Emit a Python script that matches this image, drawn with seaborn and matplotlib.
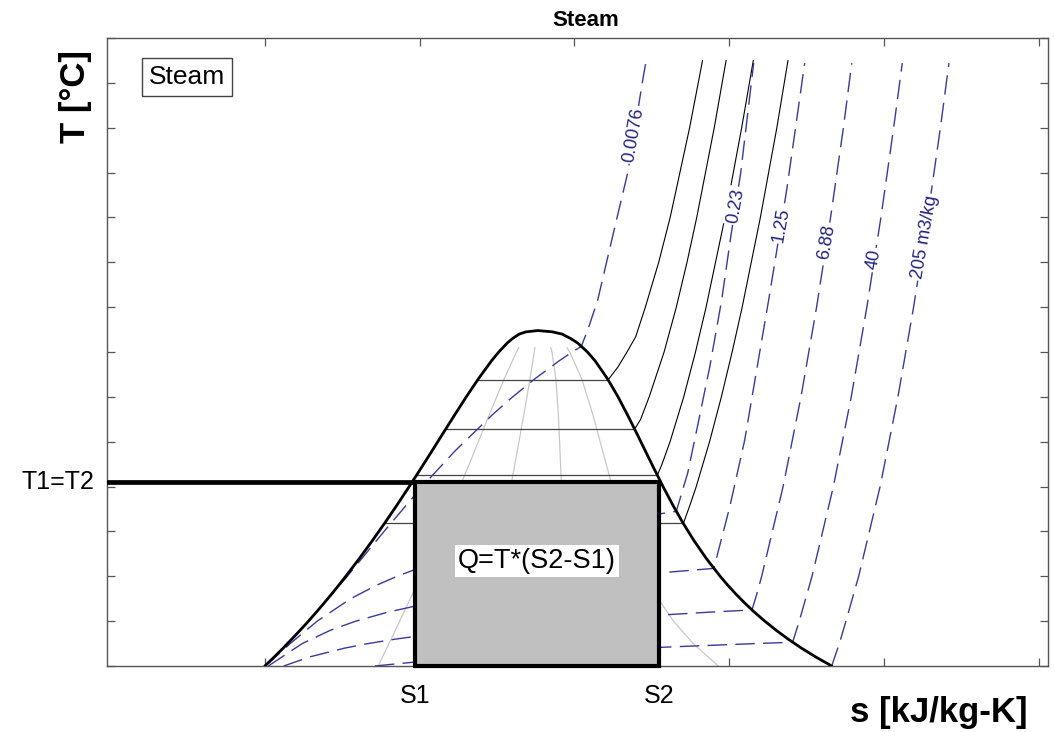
import matplotlib
matplotlib.use('Agg')
import matplotlib.pyplot as plt
import matplotlib.transforms as mtransforms
from matplotlib.patches import Rectangle
import numpy as np
import seaborn as sns

# saturation line of water: T [degC], s of liquid and vapour [kJ/kg-K]
sat_T = [0.01, 10, 20, 30, 40, 50, 60, 70, 80, 90, 100, 120, 140, 160, 180,
         200, 220, 240, 260, 280, 300, 320, 340, 350, 360, 365, 370, 372.5]
sat_sf = [0.0, 0.151, 0.297, 0.437, 0.572, 0.704, 0.831, 0.955, 1.076, 1.193,
          1.307, 1.528, 1.739, 1.943, 2.140, 2.331, 2.518, 2.702, 2.884, 3.067,
          3.253, 3.448, 3.659, 3.778, 3.915, 4.00, 4.11, 4.22]
sat_sg = [9.156, 8.900, 8.666, 8.452, 8.256, 8.075, 7.908, 7.754, 7.611, 7.478,
          7.354, 7.129, 6.929, 6.749, 6.585, 6.432, 6.286, 6.144, 6.002, 5.857,
          5.705, 5.536, 5.336, 5.211, 5.053, 4.94, 4.80, 4.64]
crit_s, crit_T = 4.41, 373.9

# lines of constant quality (0.2, 0.4, 0.6, 0.8) inside the dome
qual_T = [0.01, 25, 50, 80, 110, 140, 170, 200, 240, 280, 320, 350, 355]
qual_02 = [1.831, 2.005, 2.178, 2.383, 2.583, 2.777, 2.967, 3.151, 3.390, 3.625, 3.866, 4.064, 4.102]
qual_04 = [3.662, 3.643, 3.652, 3.690, 3.747, 3.815, 3.891, 3.972, 4.078, 4.183, 4.283, 4.351, 4.361]
qual_06 = [5.494, 5.281, 5.126, 4.997, 4.910, 4.853, 4.816, 4.792, 4.767, 4.741, 4.701, 4.638, 4.619]
qual_08 = [7.325, 6.919, 6.601, 6.304, 6.074, 5.891, 5.740, 5.612, 5.455, 5.299, 5.119, 4.924, 4.878]

# isobars (flat across the dome, then superheated)
p1_s = [3.438, 5.545, 5.70, 5.85, 5.99, 6.146, 6.362, 6.547, 6.861, 7.07]
p1_T = [319, 319, 333, 350, 367, 400, 450, 500, 600, 675]
p2_s = [2.920, 5.973, 6.07, 6.208, 6.449, 6.646, 6.819, 6.976, 7.259, 7.45]
p2_T = [264, 264, 275, 300, 350, 400, 450, 500, 600, 675]
p3_s = [2.447, 6.339, 6.415, 6.545, 6.766, 6.956, 7.127, 7.432, 7.702, 7.89]
p3_T = [212.4, 212.4, 225, 250, 300, 350, 400, 500, 600, 675]
p4_s = [1.931, 6.760, 6.87, 6.968, 7.183, 7.374, 7.548, 7.710, 8.004, 8.270, 8.45]
p4_T = [158.9, 158.9, 180, 200, 250, 300, 350, 400, 500, 600, 675]

# isochores [m3/kg]
v1_s = [0.0, 0.708, 1.331, 1.925, 2.540, 3.076, 3.674, 4.003, 4.359, 4.750, 4.966,
        5.112, 5.232, 5.377, 5.490, 5.668, 5.861, 6.104, 6.152]
v1_T = [0.01, 50, 100, 150, 200, 240, 280, 300, 320, 340, 350,
        356.2, 377.9, 408.0, 441.4, 493.8, 549.6, 653.2, 672.2]
v2_s = [0.010, 0.410, 0.845, 1.385, 1.803, 2.136, 2.521, 2.968, 3.484, 4.080, 4.764,
        5.538, 5.967, 6.420, 6.646, 6.830, 6.976, 7.186, 7.379, 7.525, 7.686, 7.896]
v2_T = [0.01, 25, 50, 75, 90, 100, 110, 120, 130, 140, 150,
        160, 165, 170, 172.4, 215.1, 263.1, 333.3, 408.0, 478.2, 549.6, 672.2]
v3_s = [0.056, 0.603, 1.064, 1.469, 1.984, 2.641, 3.473, 4.522, 5.827, 6.588, 7.252,
        7.509, 7.751, 7.944, 8.138, 8.283, 8.429, 8.574, 8.720]
v3_T = [0.01, 25, 40, 50, 60, 70, 80, 90, 100, 105, 108.8,
        177.2, 251.9, 330.0, 408.0, 469.3, 530.6, 600.8, 672.2]
v4_s = [0.306, 0.717, 1.293, 1.667, 2.114, 2.646, 3.280, 4.033, 4.919, 5.963, 7.181, 7.869,
        7.945, 8.025, 8.371, 8.660, 8.912, 9.138, 9.345, 9.48]
v4_T = [0.01, 10, 20, 25, 30, 35, 40, 45, 50, 55, 60, 62.5,
        80, 100, 200, 300, 400, 500, 600, 672]
v5_s = [1.778, 2.509, 3.443, 4.619, 6.092, 7.925, 8.525,
        8.632, 8.838, 9.183, 9.472, 9.724, 9.951, 10.157, 10.296]
v5_T = [0.01, 5, 10, 15, 20, 25, 26.5,
        50, 100, 200, 300, 400, 500, 600, 672]
v6_s = [9.156, 9.28, 9.386, 9.592, 9.938, 10.226, 10.479, 10.705, 10.912, 11.05]
v6_T = [0.01, 25, 50, 100, 200, 300, 400, 500, 600, 672]
v_labels = ['0.0076', '0.23', '1.25', '6.88', '40', '205 m3/kg']

# heat addition at constant temperature
S1, S2, T1 = 2.42, 6.37, 205

sns.set_theme(style='ticks')
plt.rcParams['font.family'] = ['Liberation Sans', 'DejaVu Sans']
plt.rcParams['text.color'] = 'black'

fig = plt.figure(figsize=(10.54, 7.32), dpi=100)
ax = fig.add_axes([107 / 1054, 66 / 732, 941 / 1054, 628 / 732])
x_lo, x_hi = -2.55, 12.65

iso_color = '#3a3a96'
label_color = '#23237a'
dash = (0, (14, 6))

# quality lines
for qs in [qual_02, qual_04, qual_06, qual_08]:
    sns.lineplot(x=qs, y=qual_T, sort=False, estimator=None, ax=ax,
                 color='#c8c8c8', lw=0.9, zorder=1)

# isobars
for ps, pT in [(p1_s, p1_T), (p2_s, p2_T), (p3_s, p3_T), (p4_s, p4_T)]:
    sns.lineplot(x=ps[:2], y=pT[:2], sort=False, estimator=None, ax=ax,
                 color='#444444', lw=0.9, zorder=2)
    sns.lineplot(x=ps[1:], y=pT[1:], sort=False, estimator=None, ax=ax,
                 color='black', lw=0.8, zorder=2)

# isochores with inline labels
curves = [(v1_s, v1_T), (v2_s, v2_T), (v3_s, v3_T), (v4_s, v4_T), (v5_s, v5_T), (v6_s, v6_T)]
label_at = [592, 513, 492, 473, 453, 478]
for (vs, vT), lab, tl in zip(curves, v_labels, label_at):
    sns.lineplot(x=vs, y=vT, sort=False, estimator=None, ax=ax,
                 color=iso_color, lw=1.0, linestyle=dash, zorder=2)
    ax.text(np.interp(tl, vT, vs), tl, lab, rotation=80, ha='center', va='center',
            fontsize=13, color=label_color, zorder=3, rotation_mode='anchor',
            bbox=dict(boxstyle='square,pad=0.1', fc='white', ec='none'))

# saturation dome
dome_s = sat_sf + [crit_s] + sat_sg[::-1]
dome_T = sat_T + [crit_T] + sat_T[::-1]
sns.lineplot(x=dome_s, y=dome_T, sort=False, estimator=None, ax=ax,
             color='black', lw=2.0, zorder=5)

# heat added Q = T*(S2-S1)
ax.add_patch(Rectangle((S1, 0), S2 - S1, T1, facecolor='#c0c0c0', edgecolor='black',
                       lw=3.0, joinstyle='miter', zorder=4, clip_on=False))
sns.lineplot(x=[x_lo, S1], y=[T1, T1], sort=False, estimator=None, ax=ax,
             color='black', lw=3.4, zorder=6)
ax.text((S1 + S2) / 2, 117, 'Q=T*(S2-S1)', ha='center', va='center', fontsize=19.5,
        zorder=7, bbox=dict(boxstyle='square,pad=0.1', fc='white', ec='none'))

ax.text(0.085, 0.938, 'Steam', transform=ax.transAxes, ha='center', va='center',
        fontsize=19, zorder=7,
        bbox=dict(boxstyle='square,pad=0.25', fc='white', ec='#444444', lw=1.0))

ax.set_xlim(x_lo, x_hi)
ax.set_ylim(0, 700)
ax.set_xticks([0, 2.5, 5, 7.5, 10, 12.5])
ax.set_yticks(range(0, 701, 50))
ax.tick_params(direction='in', length=6, width=0.9, color='#555555',
               top=True, right=True, labelbottom=False, labelleft=False)
for sp in ax.spines.values():
    sp.set_color('#555555')
    sp.set_linewidth(1.0)
    sp.set_visible(True)
ax.set_xlabel('')
ax.set_ylabel('')

xt = mtransforms.blended_transform_factory(ax.transData, ax.transAxes)
yt = mtransforms.blended_transform_factory(ax.transAxes, ax.transData)
ax.text(S1, -0.048, 'S1', transform=xt, ha='center', va='center', fontsize=18)
ax.text(S2, -0.048, 'S2', transform=xt, ha='center', va='center', fontsize=18)
ax.text(-0.013, T1, 'T1=T2', transform=yt, ha='right', va='center', fontsize=18)

fig.text(586 / 1054, 1 - 26 / 732, 'Steam', ha='center', va='baseline',
         fontsize=16, fontweight='bold')
fig.text(1028 / 1054, 1 - 722 / 732, 's [kJ/kg-K]', ha='right', va='baseline',
         fontsize=25, fontweight='bold')
fig.text(76 / 1054, 1 - 50 / 732, 'T [°C]', ha='center', va='top', rotation=90,
         fontsize=25, fontweight='bold')

fig.savefig('out.png', dpi=100, facecolor='white')
